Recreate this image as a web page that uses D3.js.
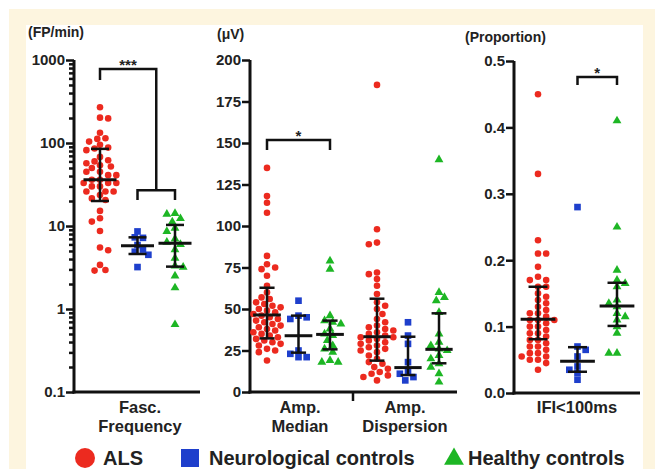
<!DOCTYPE html>
<html>
<head>
<meta charset="utf-8">
<script src="https://cdn.jsdelivr.net/npm/d3@7"></script>
<style>
body { margin: 0; background: #fff; }
svg text { font-family: "Liberation Sans", Arial, Helvetica, sans-serif; font-weight: bold; fill: #222; }
.axis .domain { stroke: #111; stroke-width: 3; }
.axis .tick line { stroke: #111; stroke-width: 2.5; }
.axis .tick text { font-size: 15px; fill: #222; }
</style>
</head>
<body>
<svg id="chart" width="655" height="469"></svg>
<script>
"use strict";

var groups = ['ALS', 'Neurological controls', 'Healthy controls'];
var colours = ['#ec2a1f', '#1e3fcc', '#1db624'];

// Fasc. Frequency (FP/min)
var fasc_als = [270, 198, 202, 133, 114, 112, 104, 95, 88, 86, 82, 68, 62, 60, 57, 54, 52, 50, 45, 45,
    41, 41, 36, 36, 33, 33, 33, 30, 30, 26, 26, 26, 23.6, 20.6, 21.5, 15.2, 11.3, 12.4, 8.7, 5.5,
    5.1, 3.4, 2.9, 2.95];
var fasc_neuro = [8.6, 7.3, 7.2, 5.9, 5.2, 4.9, 4.5, 3.2];
var fasc_healthy = [14.2, 13.9, 12.3, 11.2, 9.4, 8.6, 7.0, 6.4, 6.0, 5.2, 4.1, 3.3, 3.2, 2.5, 1.8, 0.65];
// median, lower, upper
var fasc_stats = [[36, 20, 85], [5.8, 4.6, 7.3], [6.2, 3.24, 10.3]];

// Amp. Median (uV)
var ampmed_als = [135, 118, 114, 108, 82, 77, 75, 74, 70, 64, 60, 57, 56, 54, 53, 52, 51, 50, 49, 48,
    47, 46, 45, 44, 43, 42, 41, 40, 39, 38, 37, 36, 35, 34, 33, 32, 31, 30, 29, 28, 26, 25, 24, 19];
var ampmed_neuro = [55, 46, 45, 44, 25, 23, 21, 21];
var ampmed_healthy = [79, 74, 46, 43, 42, 41, 38, 35, 34, 31, 28, 26, 24, 19, 18, 18];
var ampmed_stats = [[46.4, 32.3, 62.8], [33.9, 23.7, 46], [34.7, 25.7, 43]];

// Amp. Dispersion (uV)
var ampdisp_als = [185, 98, 90, 89, 72, 71, 68, 64, 59, 54, 52, 50, 47, 44, 42, 40, 39, 38, 37, 36,
    35, 34, 33, 33, 32, 31, 30, 29, 28, 27, 26, 25, 24, 22, 20, 18, 17, 15, 14, 12, 11, 10, 9, 7];
var ampdisp_neuro = [42, 34, 29, 18, 12, 11, 9, 7];
var ampdisp_healthy = [140, 60, 57, 55, 48, 35, 30, 28, 26, 25, 22, 20, 17, 15, 11, 6];
var ampdisp_stats = [[33.3, 18.9, 56.2], [14.7, 10.2, 33.3], [25.7, 17.3, 47.4]];

// IFI<100ms (proportion)
var ifi_als = [0.45, 0.33, 0.23, 0.21, 0.21, 0.19, 0.175, 0.17, 0.17, 0.16, 0.16, 0.15, 0.145, 0.14,
    0.135, 0.13, 0.125, 0.12, 0.12, 0.115, 0.11, 0.11, 0.11, 0.105, 0.10, 0.10, 0.095, 0.09, 0.09,
    0.085, 0.08, 0.08, 0.075, 0.07, 0.07, 0.065, 0.06, 0.06, 0.055, 0.055, 0.05, 0.05, 0.045, 0.035];
var ifi_neuro = [0.28, 0.07, 0.065, 0.055, 0.04, 0.035, 0.03, 0.02];
var ifi_healthy = [0.41, 0.25, 0.185, 0.17, 0.165, 0.16, 0.14, 0.135, 0.13, 0.12, 0.115, 0.11, 0.10,
    0.09, 0.06, 0.06];
var ifi_stats = [[0.111, 0.081, 0.160], [0.048, 0.032, 0.069], [0.131, 0.101, 0.166]];

var fasc_ticks = [0.1, 1, 10, 100, 1000];
var amp_ticks = [0, 25, 50, 75, 100, 125, 150, 175, 200];
var ifi_ticks = [0, 0.1, 0.2, 0.3, 0.4, 0.5];

var svg = d3.select('#chart');

// frame
svg.append('rect').attr('x', 9).attr('y', 9).attr('width', 646).attr('height', 460).attr('fill', '#fdf5df');
svg.append('rect').attr('x', 26).attr('y', 25).attr('width', 617).attr('height', 444).attr('fill', '#fff');

var symbols = [d3.symbolCircle, d3.symbolSquare, d3.symbolTriangle];
var sizes = [34, 44, 34];

// simple beeswarm: put each point at the nearest free offset
function swarm( values, y, r ) {
    var placed = [];
    var pts = values.map(function( v ) { return { v: v, y: y( v ) }; })
        .sort(function( a, b ) { return a.y - b.y; });
    var d = 1.9 * r;
    var step = r * 0.8;
    pts.forEach(function( p, i ) {
        for ( var k = 0; k < 60; k++ ) {
            var sign = ( ( k + i ) % 2 ) ? 1 : -1;
            var off = k === 0 ? 0 : sign * Math.ceil( k / 2 ) * step;
            var hit = placed.some(function( q ) {
                var dx = q.dx - off, dy = q.y - p.y;
                return dx * dx + dy * dy < d * d;
            });
            if ( !hit ) { p.dx = off; break; }
        }
        placed.push( p );
    });
    return pts;
}

function panel( cfg ) {
    var g = svg.append('g');
    var y = cfg.y;

    var yAxis = d3.axisLeft( y ).tickValues( cfg.ticks ).tickFormat( cfg.format )
        .tickSize( 8 ).tickSizeOuter( 0 ).tickPadding( 1 );
    var ga = g.append('g').attr('class', 'axis').attr('transform', 'translate(' + cfg.x0 + ',0)').call( yAxis );
    ga.select('.domain').attr('d', 'M0,' + ( y.range()[0] + 1.5 ) + 'V' + y.range()[1]);

    if ( cfg.minor ) {
        g.append('g').attr('class', 'axis').attr('transform', 'translate(' + cfg.x0 + ',0)')
            .call( d3.axisLeft( y ).tickValues( cfg.minor ).tickFormat('').tickSize( 5 ).tickSizeOuter( 0 ) )
            .select('.domain').remove();
    }

    var base = y.range()[0];
    g.append('line').attr('x1', cfg.x0 - 1.5).attr('x2', cfg.x1).attr('y1', base).attr('y2', base)
        .attr('stroke', '#111').attr('stroke-width', 3);
    ( cfg.dividers || [] ).forEach(function( dx ) {
        g.append('line').attr('x1', dx).attr('x2', dx).attr('y1', base).attr('y2', base + 9)
            .attr('stroke', '#111').attr('stroke-width', 2.5);
    });

    g.append('text').attr('x', cfg.unitX).attr('y', cfg.unitY).style('font-size', '14px').text( cfg.unit );

    cfg.cats.forEach(function( cat ) {
        var x = d3.scalePoint().domain( groups ).range([ cat.cx - cat.sp, cat.cx + cat.sp ]);

        cat.label.forEach(function( line, i ) {
            g.append('text').attr('x', cat.lx).attr('y', 413 + i * 19).attr('text-anchor', 'middle')
                .style('font-size', '16.5px').text( line );
        });

        groups.forEach(function( grp, gi ) {
            var cx = x( grp );
            var pts = swarm( cat.data[gi], y, 3.4 );
            g.append('g').selectAll('path').data( pts ).enter().append('path')
                .attr('d', d3.symbol().type( symbols[gi] ).size( sizes[gi] ))
                .attr('transform', function( d ) { return 'translate(' + ( cx + d.dx ) + ',' + d.y + ')'; })
                .attr('fill', colours[gi]);

            var st = cat.stats[gi];
            var hw = cat.sp * 0.44, cw = cat.sp * 0.24;
            var eb = g.append('g').attr('stroke', '#111');
            eb.append('line').attr('x1', cx).attr('x2', cx).attr('y1', y( st[1] )).attr('y2', y( st[2] )).attr('stroke-width', 2.5);
            eb.append('line').attr('x1', cx - cw).attr('x2', cx + cw).attr('y1', y( st[1] )).attr('y2', y( st[1] )).attr('stroke-width', 2.5);
            eb.append('line').attr('x1', cx - cw).attr('x2', cx + cw).attr('y1', y( st[2] )).attr('y2', y( st[2] )).attr('stroke-width', 2.5);
            eb.append('line').attr('x1', cx - hw).attr('x2', cx + hw).attr('y1', y( st[0] )).attr('y2', y( st[0] )).attr('stroke-width', 3);
        });

        ( cat.brackets || [] ).forEach(function( b ) {
            var xa = b.a === 'mid' ? ( x( groups[1] ) + x( groups[2] ) ) / 2 : x( b.a );
            var xb = b.b === 'mid' ? ( x( groups[1] ) + x( groups[2] ) ) / 2 : x( b.b );
            g.append('path')
                .attr('d', 'M' + xa + ',' + y( b.legA ) + 'V' + y( b.top ) + 'H' + xb + 'V' + y( b.legB ))
                .attr('fill', 'none').attr('stroke', '#111').attr('stroke-width', 2.5);
            if ( b.label ) {
                g.append('text').attr('x', b.lx !== undefined ? b.lx : ( xa + xb ) / 2).attr('y', y( b.top ) + 1)
                    .attr('text-anchor', 'middle').style('font-size', '15px').text( b.label );
            }
        });
    });
}

var fasc_minor = [];
[0.1, 1, 10, 100].forEach(function( e ) { for ( var k = 2; k < 10; k++ ) fasc_minor.push( k * e ); });

panel({
    y: d3.scaleLog().domain([0.1, 1000]).range([392, 60]),
    ticks: fasc_ticks, minor: fasc_minor,
    format: function( d ) { return String( d ); },
    x0: 74, x1: 200,
    unit: '(FP/min)', unitX: 28, unitY: 37,
    cats: [{
        label: ['Fasc.', 'Frequency'], lx: 140, cx: 137.5, sp: 37.5,
        data: [fasc_als, fasc_neuro, fasc_healthy], stats: fasc_stats,
        brackets: [
            { a: 'ALS', b: 'mid', top: 780, legA: 575, legB: 27, label: '***', lx: 128 },
            { a: groups[1], b: groups[2], top: 27, legA: 20.6, legB: 20.6 }
        ]
    }]
});

panel({
    y: d3.scaleLinear().domain([0, 200]).range([392, 60]),
    ticks: amp_ticks,
    format: d3.format('d'),
    x0: 250, x1: 457, dividers: [353],
    unit: '(\u03bcV)', unitX: 217, unitY: 39,
    cats: [{
        label: ['Amp.', 'Median'], lx: 300, cx: 298.5, sp: 31.5,
        data: [ampmed_als, ampmed_neuro, ampmed_healthy], stats: ampmed_stats,
        brackets: [{ a: 'ALS', b: groups[2], top: 151.8, legA: 145.8, legB: 145.8, label: '*' }]
    }, {
        label: ['Amp.', 'Dispersion'], lx: 405, cx: 408, sp: 31,
        data: [ampdisp_als, ampdisp_neuro, ampdisp_healthy], stats: ampdisp_stats
    }]
});

panel({
    y: d3.scaleLinear().domain([0, 0.5]).range([393, 61]),
    ticks: ifi_ticks,
    format: d3.format('.1f'),
    x0: 514, x1: 640,
    unit: '(Proportion)', unitX: 465, unitY: 42,
    cats: [{
        label: ['IFI<100ms'], lx: 577, cx: 577.5, sp: 39.5,
        data: [ifi_als, ifi_neuro, ifi_healthy], stats: ifi_stats,
        brackets: [{ a: groups[1], b: groups[2], top: 0.476, legA: 0.464, legB: 0.464, label: '*' }]
    }]
});

// legend
var legend_x = [85, 190, 454];
var legend_text_x = [103, 209, 468];
var legend_sizes = [314, 324, 170];
var lg = svg.append('g');
groups.forEach(function( grp, i ) {
    lg.append('path').attr('d', d3.symbol().type( symbols[i] ).size( legend_sizes[i] ))
        .attr('transform', 'translate(' + legend_x[i] + ',' + ( i === 2 ? 459 : 458 ) + ')')
        .attr('fill', colours[i]);
    lg.append('text').attr('x', legend_text_x[i]).attr('y', 465).style('font-size', '20px').text( grp );
});
</script>
</body>
</html>
